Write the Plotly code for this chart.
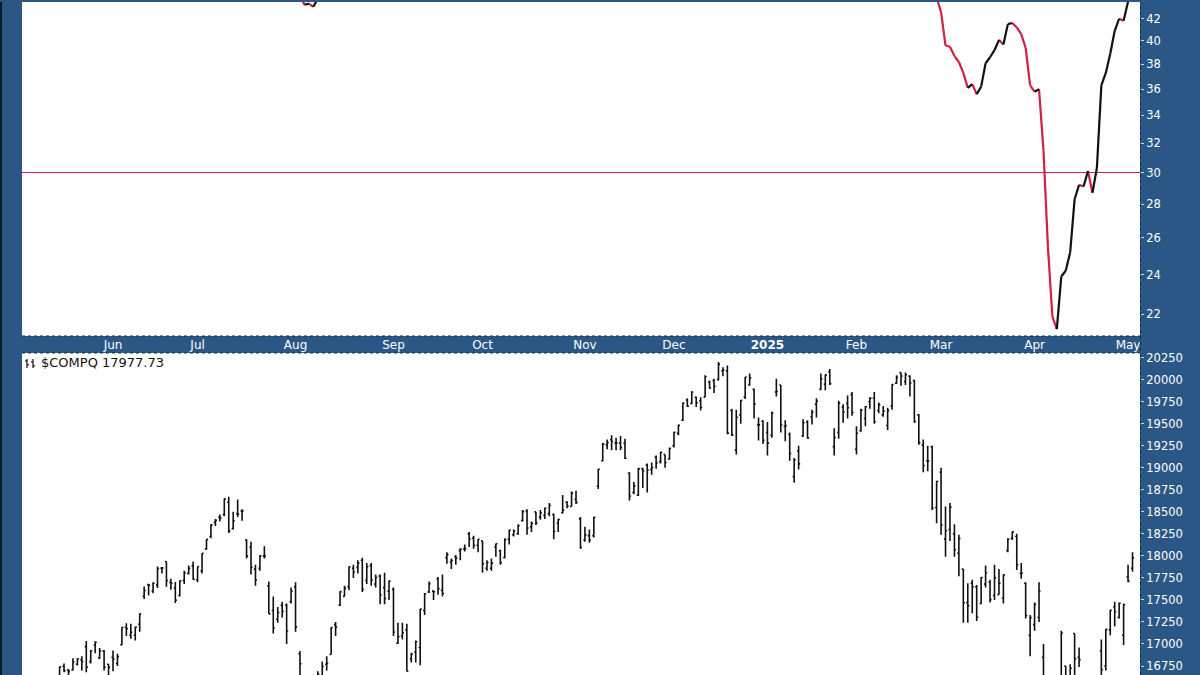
import math
import plotly.graph_objects as go

# ---------------- data ----------------
# x = trading-day index, 0 = 2024-06-03
month_idx = [0, 19, 41, 63, 83, 106, 126, 147, 167, 186, 207, 228]
month_lab = ["Jun", "Jul", "Aug", "Sep", "Oct", "Nov", "Dec", "<b>2025</b>",
             "Feb", "Mar", "Apr", "May"]

first_bar_idx = -12
bar_open = [16590,16747,16705,16705,16770,16821,16970,16800,16988,16842,16922,16770,
 16850,16778,16990,17190,17100,17100,17225,17542,17674,17601,17668,17861,17937,17699,17635,17550,17720,17800,17887,
 17730,17830,18080,18220,18380,18440,18470,18610,18310,18480,18510,18180,18100,17850,17860,18000,17660,17380,17280,17440,17440,17480,
 17650,16890,15710,16250,16530,16360,16640,16770,16880,17220,17440,17540,17650,17860,17870,17950,17720,17890,17680,17770,17640,17600,
 17620,17010,17090,17160,16830,16910,16960,17380,17590,17600,17740,17610,17980,17930,17990,18060,18080,18250,18200,18120,
 18170,17860,17860,18100,18060,17980,18190,18240,18250,18400,18510,18330,18500,18440,18460,18480,18470,18370,18490,18610,18560,18640,18420,
 18180,18230,18230,18790,19080,19260,19320,19280,19280,19280,18940,18720,18690,18990,19030,18980,19120,19070,19150,19100,
 19250,19390,19540,19770,19730,19800,19760,19800,19970,19990,20000,20100,20100,19650,19200,19600,19800,19940,19890,19490,19530,
 19400,19370,19860,19940,19470,19380,18900,19190,19360,19520,19580,19720,19890,19950,20090,19240,19400,19690,19730,19830,
 19210,19420,19560,19750,19790,19650,19600,19480,19700,19960,20080,19980,20040,19990,19600,19260,19080,19240,18550,
 18950,18190,18300,18250,18030,17850,17470,17690,17650,17460,17680,17700,17550,17560,17520,18060,18200,18220,17800,17690,17100,
 17220,17300,16850,16240,14790,16280,15320,16750,16420,17120,16850,16510,16470,16060,16000,16920,16750,17160,17420,17300,17100,
 17760,17860]
bar_high = [16746,16778,16715,16837,16837,16860,17033,16932,17032,16955,16931,16770,
 16925,16888,17194,17235,17230,17196,17346,17652,17680,17700,17881,17875,17937,17740,17705,17720,17830,17890,17936,
 17880,18030,18190,18360,18420,18470,18650,18670,18500,18640,18530,18190,18160,17900,18010,18110,17710,17540,17420,17480,17460,17640,
 17700,16920,16380,16520,16650,16690,16800,16860,17190,17250,17600,17660,17880,17900,17950,17980,17920,17920,17790,17790,17810,17720,
 17640,17240,17240,17230,16900,17040,17400,17580,17710,17610,17760,17790,18040,17970,18010,18090,18130,18270,18230,18190,
 18170,17950,17970,18140,18070,18200,18300,18300,18360,18520,18530,18390,18500,18520,18550,18600,18480,18420,18690,18620,18730,18740,18440,
 18330,18300,18440,18990,19280,19320,19370,19340,19360,19330,18950,18840,19000,19000,19050,19060,19140,19180,19150,19230,
 19410,19490,19740,19790,19870,19810,19800,20050,19990,20010,20200,20140,20160,19670,19660,19770,20030,20070,19900,19570,19540,
 19520,19640,20010,19940,19540,19400,19110,19250,19550,19540,19660,19790,20070,20060,20120,19450,19760,19720,19820,19860,
 19470,19670,19700,19800,19860,19740,19700,19680,19950,20050,20080,20080,20050,20000,19610,19320,19250,19250,18850,
 19000,18560,18600,18360,18240,17850,17690,17730,17670,17760,17890,17730,17900,17850,17790,18200,18280,18250,17920,17700,17330,
 17470,17700,17000,16330,16290,16360,17150,16750,16770,17120,16960,16580,16480,16060,16330,17050,17170,17390,17480,17470,17460,
 17900,18040]
bar_low = [16570,16680,16612,16700,16755,16700,16678,16780,16895,16830,16700,16495,
 16690,16750,16990,17090,17060,17040,17140,17510,17551,17575,17635,17800,17650,17615,17465,17540,17680,17790,17730,
 17700,17800,18070,18200,18340,18390,18450,18260,18300,18440,18400,17970,17790,17660,17830,17970,17340,17120,17240,17300,17000,17460,
 17140,16640,15710,16190,16180,16300,16580,16700,16880,17090,17430,17540,17610,17750,17800,17590,17680,17660,17640,17450,17450,17500,
 17090,17000,17050,16690,16790,16790,16760,17330,17580,17500,17560,17540,17910,17850,17900,17950,18050,18100,18080,18040,
 17810,17830,17830,17990,17900,17970,18130,18220,18240,18390,18240,18270,18350,18410,18420,18450,18190,18270,18480,18540,18560,18590,18080,
 18160,18150,18210,18760,19070,19210,19200,19200,19200,19100,18630,18700,18680,18770,18720,18920,18990,19050,19000,19090,
 19230,19370,19530,19690,19720,19690,19650,19800,19900,19850,19990,20040,19380,19360,19150,19500,19780,19930,19560,19310,19270,
 19140,19340,19810,19400,19300,19080,18830,18980,19350,19330,19490,19570,19880,19880,19940,19140,19330,19510,19560,19590,
 19150,19410,19470,19670,19500,19620,19580,19430,19660,19950,19930,19940,19810,19510,19260,18950,18960,18520,18370,
 18240,17990,18170,17990,17770,17240,17240,17350,17260,17450,17640,17470,17500,17560,17460,18040,18180,17840,17740,17290,16860,
 17150,17250,16550,15590,14780,15080,15290,15900,16320,16630,16740,16100,16200,15700,15990,16620,16700,17100,17200,17290,16990,
 17700,17820]
bar_close = [16742,16698,16686,16795,16833,16802,16737,16921,17019,16920,16737,16735,
 16828,16857,17187,17173,17133,17192,17343,17608,17667,17689,17857,17862,17721,17689,17497,17717,17805,17858,17733,
 17879,18029,18188,18352,18403,18429,18647,18283,18398,18472,18509,17997,17871,17726,17998,17997,17342,17182,17358,17370,17147,17599,
 17194,16776,16200,16366,16195,16660,16745,16780,17188,17192,17594,17631,17877,17817,17918,17620,17877,17725,17754,17556,17516,17714,
 17136,17084,17128,16690,16885,17026,17396,17570,17684,17593,17628,17573,18014,17948,17974,18075,18083,18191,18119,18189,
 17910,17925,17918,18138,17924,18183,18291,18282,18342,18502,18316,18367,18374,18489,18540,18573,18277,18415,18519,18567,18712,18607,18095,
 18239,18180,18439,18983,19269,19287,19299,19282,19231,19108,18680,18792,18988,18967,18972,19004,19054,19175,19060,19218,
 19404,19481,19735,19700,19860,19737,19687,20034,19902,19926,20174,20109,19393,19373,19573,19765,20031,20020,19722,19487,19311,
 19280,19622,19865,19490,19479,19162,19088,19044,19511,19339,19630,19757,20009,20054,19955,19342,19734,19633,19681,19627,
 19392,19654,19692,19791,19523,19714,19643,19649,19945,20026,20041,20056,19962,19524,19286,19026,19075,18544,18847,
 18350,18285,18553,18069,18196,17468,17436,17648,17303,17754,17808,17504,17751,17691,17784,18189,18272,17900,17804,17323,17299,
 17450,17601,16551,15588,15603,15268,17125,16387,16724,16831,16823,16307,16287,15871,16300,16708,17166,17383,17366,17462,17446,
 17711,17978]

# upper-panel indicator (only the stretches that come into view are listed)
ind_idx = [-12, 38, 41, 42, 43, 44, 45, 46, 47, 60, 150, 184, 185, 186, 187, 188, 189, 190,
           191, 192, 193, 194, 195, 196, 197, 198, 199, 200, 201, 202, 203, 204, 205,
           206, 207, 208, 209, 210, 211, 212, 213, 214, 215, 216, 217, 218, 219, 220,
           221, 222, 223, 224, 225, 226, 227, 228, 229]
ind_val = [55, 50, 47, 44.2, 43.3, 43.4, 43.1, 43.9, 46, 52, 55, 46, 44.0, 42.6, 39.6, 39.5, 38.7, 38.2,
           37.3, 36.1, 36.4, 35.6, 36.2, 38.1, 38.6, 39.2, 40.1, 39.7, 41.5, 41.6, 41.2, 40.6, 39.4,
           36.3, 35.8, 36.0, 31.5, 25.5, 21.9, 21.3, 23.9, 24.2, 25.2, 28.3, 29.2, 29.1, 30.1, 28.7,
           30.3, 36.3, 37.3, 38.9, 40.9, 42.0, 41.8, 43.6, 45.5]
ref_level = 30

ticker_title = "$COMPQ 17977.73"
top_ticks = [22, 24, 26, 28, 30, 32, 34, 36, 38, 40, 42, 44]
bot_ticks = [16750, 17000, 17250, 17500, 17750, 18000, 18250, 18500, 18750,
             19000, 19250, 19500, 19750, 20000, 20250]

# ---------------- styling / layout ----------------
W, H = 1200, 675
BLUE = "rgb(42,87,133)"
RED = "#d21f45"
FONT = "DejaVu Sans"

def px(x):
    return x / W

def py(y):
    return 1 - y / H

x_range = [(22 - 113) / 4.452, (1140 - 113) / 4.452]

fig = go.Figure()

# indicator line coloured by direction
ux, uy, dx, dy = [], [], [], []
for i in range(len(ind_idx) - 1):
    sx = [ind_idx[i], ind_idx[i + 1], None]
    sy = [ind_val[i], ind_val[i + 1], None]
    if ind_val[i + 1] >= ind_val[i]:
        ux += sx; uy += sy
    else:
        dx += sx; dy += sy

fig.add_trace(go.Scatter(x=[x_range[0], x_range[1]], y=[ref_level, ref_level],
                         mode="lines", line=dict(color=RED, width=1),
                         xaxis="x", yaxis="y", hoverinfo="skip", showlegend=False))
fig.add_trace(go.Scatter(x=dx, y=dy, mode="lines", line=dict(color=RED, width=2.2),
                         xaxis="x", yaxis="y", showlegend=False, connectgaps=False))
fig.add_trace(go.Scatter(x=ux, y=uy, mode="lines", line=dict(color="#111111", width=2.2),
                         xaxis="x", yaxis="y", showlegend=False, connectgaps=False))

bar_x = list(range(first_bar_idx, first_bar_idx + len(bar_close)))
fig.add_trace(go.Ohlc(x=bar_x, open=bar_open, high=bar_high, low=bar_low, close=bar_close,
                      increasing=dict(line=dict(color="#111111", width=1.6)),
                      decreasing=dict(line=dict(color="#111111", width=1.6)),
                      tickwidth=0.35, xaxis="x2", yaxis="y2", showlegend=False))

top_lo = 42 * math.exp(-(335 - 16.7) / 458.7)
top_hi = 42 * math.exp(16.7 / 458.7)
bot_hi = 20250 + (356.7 - 352) * 11.316
bot_lo = 20250 - (675 - 356.7) * 11.316

axis_font = dict(family=FONT, size=11.5, color="white")
month_font = dict(family=FONT, size=12, color="white")

fig.update_layout(
    width=W, height=H,
    margin=dict(l=0, r=0, t=0, b=0),
    paper_bgcolor=BLUE, plot_bgcolor="white",
    showlegend=False,
    xaxis=dict(domain=[px(22), px(1140)], range=x_range, anchor="y",
               tickvals=month_idx, ticktext=month_lab, tickfont=month_font,
               showgrid=False, zeroline=False, ticks="", showline=False),
    yaxis=dict(domain=[py(335), 1], type="log",
               range=[math.log10(top_lo), math.log10(top_hi)],
               side="right", anchor="x", tickvals=top_ticks,
               ticktext=[str(v) for v in top_ticks], tickfont=axis_font,
               ticks="outside", ticklen=3, tickcolor="#c8d4e0",
               showgrid=False, zeroline=False, showline=False),
    xaxis2=dict(domain=[px(22), px(1140)], range=x_range, anchor="y2", matches="x",
                showticklabels=False, showgrid=False, zeroline=False, ticks=""),
    yaxis2=dict(domain=[0, py(352)], range=[bot_lo, bot_hi], side="right", anchor="x2",
                tickvals=bot_ticks, ticktext=[str(v) for v in bot_ticks], tickfont=axis_font,
                ticks="outside", ticklen=3, tickcolor="#c8d4e0",
                showgrid=False, zeroline=False, showline=False),
    xaxis_rangeslider_visible=False,
    xaxis2_rangeslider_visible=False,
)

shapes = []
# left dark border
shapes.append(dict(type="rect", xref="paper", yref="paper", x0=0, x1=px(2), y0=0, y1=1,
                   fillcolor="#0b1a2a", line=dict(width=0), layer="above"))
# dotted frame lines
for yy in (335, 352):
    shapes.append(dict(type="line", xref="paper", yref="paper", x0=px(22), x1=px(1140),
                       y0=py(yy), y1=py(yy), line=dict(color="#0e2740", width=1, dash="dot")))
shapes.append(dict(type="line", xref="paper", yref="paper", x0=px(1140.5), x1=px(1140.5),
                   y0=0, y1=1, line=dict(color="#0e2740", width=1, dash="dot")))
# small bar-chart icon next to the ticker
for (bx, tl, tr) in ((27, 360, 364), (33, 361, 365)):
    shapes.append(dict(type="line", xref="paper", yref="paper", x0=px(bx), x1=px(bx),
                       y0=py(358), y1=py(367), line=dict(color="#222", width=1.3)))
    shapes.append(dict(type="line", xref="paper", yref="paper", x0=px(bx - 2), x1=px(bx),
                       y0=py(tl), y1=py(tl), line=dict(color="#222", width=1.3)))
    shapes.append(dict(type="line", xref="paper", yref="paper", x0=px(bx), x1=px(bx + 2),
                       y0=py(tr), y1=py(tr), line=dict(color="#222", width=1.3)))
fig.update_layout(shapes=shapes)

fig.add_annotation(x=px(39), y=py(362), xref="paper", yref="paper", xanchor="left",
                   yanchor="middle", showarrow=False, text=ticker_title,
                   font=dict(family=FONT, size=13, color="#111111"))

fig.write_html("out.html", config={"displayModeBar": False},
               post_script="document.body.style.margin='0';document.body.style.overflow='hidden';")
